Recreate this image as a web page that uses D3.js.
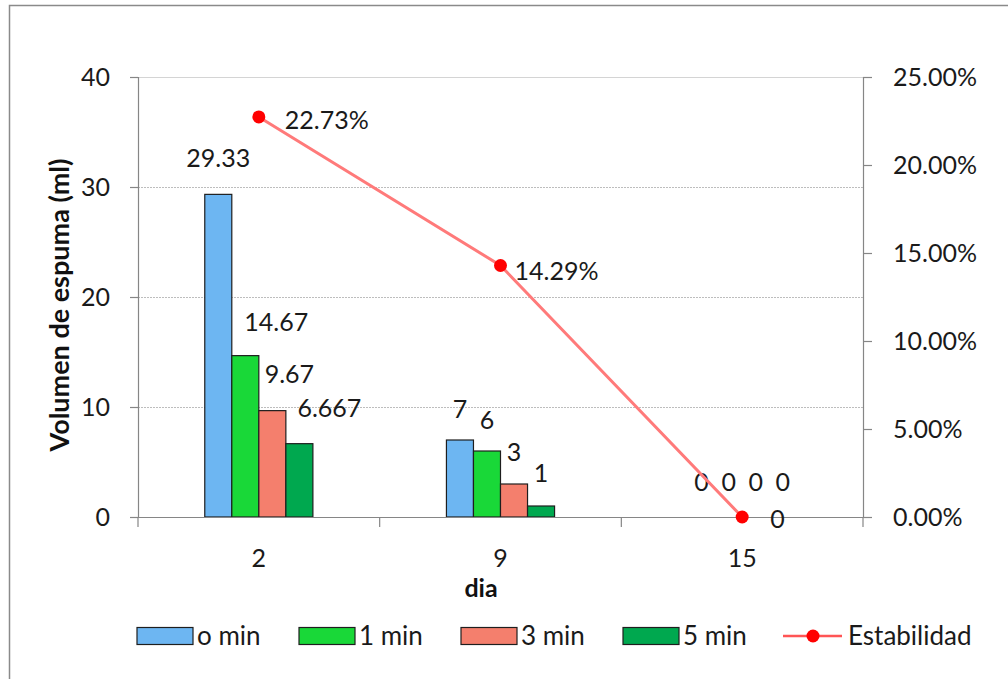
<!DOCTYPE html>
<html>
<head>
<meta charset="utf-8">
<script src="https://cdn.jsdelivr.net/npm/d3@7"></script>
<style>
  html, body { margin: 0; padding: 0; background: #fff; }
  svg { display: block; font-family: Lato, "Open Sans", sans-serif; }
</style>
</head>
<body>
<svg id="chart" width="1008" height="679"></svg>
<script>
// Foam volume per day and time, with foam stability on the secondary axis
const dias = ["2", "9", "15"];
const series = ["o min", "1 min", "3 min", "5 min"];
const min0 = [29.33, 7, 0];
const min1 = [14.67, 6, 0];
const min3 = [9.67, 3, 0];
const min5 = [6.667, 1, 0];
const estabilidad = [0.2273, 0.1429, 0];
const leftTicks = [0, 10, 20, 30, 40];
const rightTicks = [0, 0.05, 0.10, 0.15, 0.20, 0.25];
const colors = ["#6db6f2", "#19d838", "#f47f6d", "#00a84f"];

const values = [min0, min1, min3, min5];
const barLabels = [
  ["29.33", "7", "0"],
  ["14.67", "6", "0"],
  ["9.67", "3", "0"],
  ["6.667", "1", "0"]
];
const pctLabels = ["22.73%", "14.29%", "0"];

const svg = d3.select("#chart");
const plotL = 138, plotR = 863, plotT = 77, plotB = 517;

// outer chart frame
svg.append("rect").attr("x", 9.5).attr("y", 5.5).attr("width", 1020).attr("height", 700)
  .attr("fill", "none").attr("stroke", "#8a8a8a").attr("stroke-width", 1.5);

const x = d3.scaleBand().domain(dias).range([plotL, plotR]);
const x1 = d3.scaleBand().domain(series).range([0, x.bandwidth()]).paddingInner(0).paddingOuter(2.47);
const y = d3.scaleLinear().domain([0, 40]).range([plotB, plotT]);
const y2 = d3.scaleLinear().domain([0, 0.25]).range([plotB, plotT]);

// gridlines
svg.append("g").selectAll("line").data([10, 20, 30]).join("line")
  .attr("x1", plotL).attr("x2", plotR)
  .attr("y1", d => Math.round(y(d)) + 0.5).attr("y2", d => Math.round(y(d)) + 0.5)
  .attr("stroke", "#bdbdbd").attr("stroke-dasharray", "2,1");
svg.append("line").attr("x1", plotL).attr("x2", plotR)
  .attr("y1", Math.round(y(40)) + 0.5).attr("y2", Math.round(y(40)) + 0.5)
  .attr("stroke", "#d4d4d4");

// left axis
const gL = svg.append("g").attr("transform", `translate(${plotL},0)`)
  .call(d3.axisLeft(y).tickValues(leftTicks).tickSize(8).tickPadding(20).tickFormat(d3.format("d")));
// right axis
const gR = svg.append("g").attr("transform", `translate(${plotR},0)`)
  .call(d3.axisRight(y2).tickValues(rightTicks).tickSize(9).tickPadding(21).tickFormat(d3.format(".2%")));
[gL, gR].forEach(g => {
  g.select(".domain").attr("stroke", "#868686").attr("stroke-width", 1.2);
  g.selectAll(".tick line").attr("stroke", "#868686").attr("stroke-width", 1.2);
  g.selectAll(".tick text").attr("font-size", 25).attr("fill", "#1a1a1a").attr("font-family", "Lato, sans-serif");
});

// bars
const gBars = svg.append("g");
series.forEach((s, si) => {
  gBars.append("g").selectAll("rect").data(values[si]).join("rect")
    .attr("x", (d, i) => x(dias[i]) + x1(s))
    .attr("y", d => y(d))
    .attr("width", x1.bandwidth())
    .attr("height", d => plotB - y(d))
    .attr("fill", colors[si])
    .attr("stroke", d => d > 0 ? "#1e1e1e" : "none")
    .attr("stroke-width", 1.2);
});

// x axis
const gX = svg.append("g").attr("transform", `translate(0,${plotB})`)
  .call(d3.axisBottom(x).tickSize(0).tickPadding(32));
gX.select(".domain").attr("stroke", "#868686").attr("stroke-width", 1.2);
gX.selectAll(".tick text").attr("font-size", 25).attr("fill", "#1a1a1a").attr("font-family", "Lato, sans-serif");
const bounds = [plotL, ...dias.map(d => x(d) + x.bandwidth())];
svg.append("g").selectAll("line").data(bounds).join("line")
  .attr("x1", d => d).attr("x2", d => d).attr("y1", plotB).attr("y2", plotB + 10)
  .attr("stroke", "#868686").attr("stroke-width", 1.2);

// bar value labels (offsets for the first group, which were nudged aside)
const labelDx = [[0, 0, 0], [31, 0, 0], [17, 0, 0], [30, 0, 0]];
const labelDy = [[-36, -31, -35], [-34, -31, -35], [-37, -32, -35], [-36, -33, -35]];
series.forEach((s, si) => {
  svg.append("g").selectAll("text").data(values[si]).join("text")
    .attr("x", (d, i) => x(dias[i]) + x1(s) + x1.bandwidth() / 2 + labelDx[si][i])
    .attr("y", (d, i) => y(d) + labelDy[si][i])
    .attr("dy", "0.36em")
    .attr("text-anchor", "middle")
    .attr("font-size", 25).attr("fill", "#1a1a1a")
    .text((d, i) => barLabels[si][i]);
});

// stability line
const cx = i => x(dias[i]) + x.bandwidth() / 2;
const line = d3.line().x((d, i) => cx(i)).y(d => y2(d));
svg.append("path").datum(estabilidad).attr("d", line)
  .attr("fill", "none").attr("stroke", "#ff7a7a").attr("stroke-width", 3);
svg.append("g").selectAll("circle").data(estabilidad).join("circle")
  .attr("cx", (d, i) => cx(i)).attr("cy", d => y2(d)).attr("r", 6.5)
  .attr("fill", "#ff0000");
const pDx = [26, 14, 28], pDy = [3, 6, 2];
svg.append("g").selectAll("text").data(estabilidad).join("text")
  .attr("x", (d, i) => cx(i) + pDx[i])
  .attr("y", (d, i) => y2(d) + pDy[i])
  .attr("dy", "0.36em")
  .attr("font-size", 25).attr("fill", "#1a1a1a")
  .text((d, i) => pctLabels[i]);

// axis titles
svg.append("text").attr("transform", "translate(69,305) rotate(-90)")
  .attr("text-anchor", "middle").attr("font-size", 27).attr("font-weight", "bold")
  .attr("fill", "#111").text("Volumen de espuma (ml)");
svg.append("text").attr("x", 481).attr("y", 597)
  .attr("text-anchor", "middle").attr("font-size", 25).attr("font-weight", "bold")
  .attr("fill", "#111").text("dia");

// legend
const legX = [137, 299, 461, 623];
const legY = 636;
series.forEach((s, si) => {
  svg.append("rect").attr("x", legX[si]).attr("y", legY - 8.5).attr("width", 56).attr("height", 17)
    .attr("fill", colors[si]).attr("stroke", "#1e1e1e").attr("stroke-width", 1.2);
  svg.append("text").attr("x", legX[si] + 60).attr("y", legY).attr("dy", "0.36em")
    .attr("font-size", 26).attr("fill", "#1a1a1a").text(s);
});
svg.append("line").attr("x1", 783).attr("x2", 842).attr("y1", legY).attr("y2", legY)
  .attr("stroke", "#ff5555").attr("stroke-width", 2.5);
svg.append("circle").attr("cx", 813).attr("cy", legY).attr("r", 6.5).attr("fill", "#ff0000");
svg.append("text").attr("x", 848).attr("y", legY).attr("dy", "0.36em")
  .attr("font-size", 26).attr("fill", "#1a1a1a").text("Estabilidad");
</script>
</body>
</html>
